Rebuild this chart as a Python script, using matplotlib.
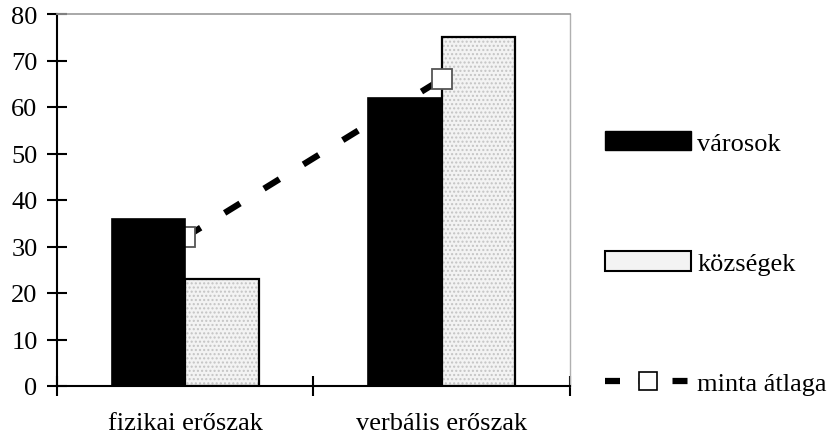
import matplotlib
matplotlib.use("Agg")
import matplotlib.pyplot as plt
import numpy as np
from matplotlib.patches import Patch
from matplotlib.lines import Line2D

categories = ["fizikai erőszak", "verbális erőszak"]
varosok = [36, 62]
kozsegek = [23, 75]
minta_atlaga = [32, 66]
yticks = [0, 10, 20, 30, 40, 50, 60, 70, 80]

plt.rcParams['font.family'] = ['Liberation Serif', 'DejaVu Serif']

fig = plt.figure(figsize=(8.29, 4.39), dpi=100)
ax = fig.add_axes([57/829, 1-387/439, (570-57)/829, (387-15)/439])

x = np.arange(len(categories))
w = 0.286
ax.bar(x - w/2, varosok, width=w, color='black', edgecolor='black', linewidth=1.2, zorder=3)
ax.bar(x + w/2, kozsegek, width=w, color='#f3f3f3', edgecolor='#c4c4c4', hatch='....', linewidth=0, zorder=2)
ax.bar(x + w/2, kozsegek, width=w, fill=False, edgecolor='black', linewidth=1.6, zorder=2.2)
ax.plot(x, minta_atlaga, color='black', lw=4.5, linestyle=(0, (2.9, 4.5)),
        marker='s', markersize=15, markerfacecolor='white', markeredgecolor='#555555',
        markeredgewidth=1.3, zorder=2.5)

ax.set_xlim(-0.5, 1.5)
ax.set_ylim(0, 80)
ax.set_yticks(yticks)
ax.set_yticklabels([str(v) for v in yticks], fontsize=19)
ax.set_xticks([-0.5, 0.5, 1.5])
ax.set_xticklabels([])
for xi, lab in zip(x, categories):
    ax.text(xi, -5.5, lab, ha='center', va='top', fontsize=19)
ax.tick_params(axis='y', direction='inout', length=14, width=1.5, pad=7)
ax.tick_params(axis='x', direction='inout', length=14, width=1.5)
ax.spines['left'].set_linewidth(1.5)
ax.spines['bottom'].set_linewidth(1.5)
ax.spines['top'].set_color('#9a9a9a')
ax.spines['top'].set_linewidth(1.2)
ax.spines['right'].set_color('#b0b0b0')
ax.spines['right'].set_linewidth(1.0)

handles = [
    Patch(facecolor='black', edgecolor='black'),
    Patch(facecolor='#f3f3f3', edgecolor='black', linewidth=1.5),
    Line2D([0], [0], color='black', lw=4.5, linestyle=(0, (2.4, 3.0)), marker='s',
           markersize=13, markerfacecolor='white', markeredgecolor='black', markeredgewidth=1.2),
]
fig.legend(handles, ["városok", "községek", "minta átlaga"], loc='upper left',
           bbox_to_anchor=(605/829, 1-132/439), frameon=False, fontsize=19,
           handlelength=3.25, handleheight=0.75, labelspacing=3.65, handletextpad=0.25,
           borderpad=0, borderaxespad=0)

fig.savefig("out.png", dpi=100)
